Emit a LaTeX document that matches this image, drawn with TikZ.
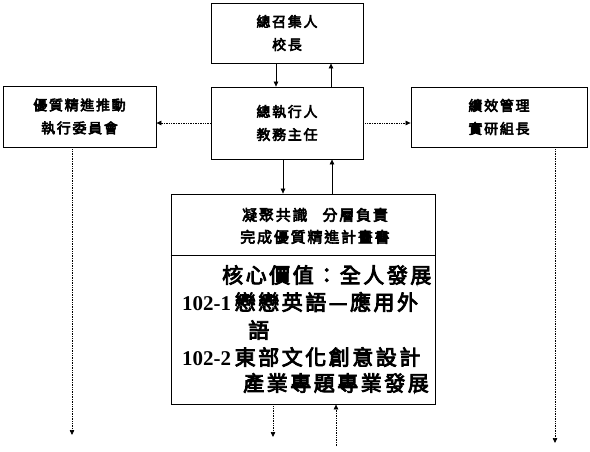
\documentclass[tikz,border=0pt]{standalone}
\usepackage{fontspec}
\setmainfont{Liberation Serif}
\newfontfamily\cjk[FakeBold=4, LetterSpace=12]{Noto Sans CJK TC}
\usepackage{tikz}
\usetikzlibrary{arrows.meta}

\begin{document}
\begin{tikzpicture}[
        x=1pt, y=-1pt,
        box/.style={rectangle, draw=black, line width=0.8pt, align=center, inner sep=0pt, font=\cjk\fontsize{14}{23}\selectfont},
        arrow/.style={-{Triangle[length=5pt,width=4.5pt]}, line width=0.7pt},
        dotarrow/.style={arrow, densely dotted},
        goal/.style={anchor=west, inner sep=0pt, font=\cjk\fontsize{21}{21}\selectfont}
    ]
        \useasboundingbox (0,0) rectangle (590,451);

        \node[box, minimum width=152pt, minimum height=60pt] (head) at (287,33) {總召集人\\校長};
        \node[box, minimum width=152pt, minimum height=72pt] (exec) at (287,123) {總執行人\\教務主任};
        \node[box, minimum width=153pt, minimum height=61pt] (board) at (79.5,116.5) {優質精進推動\\執行委員會};
        \node[box, minimum width=176pt, minimum height=60pt] (review) at (499,117) {績效管理\\實研組長};
        \node[box, minimum width=264pt, minimum height=210pt] (plan) at (303,299) {};

        % plan box contents
        \draw[line width=0.8pt] (plan.west |- 0,255) -- (plan.east |- 0,255);
        \node[font=\cjk\fontsize{15}{22}\selectfont, align=center] (consensus) at (315,226) {凝聚共識\quad 分層負責\\完成優質精進計畫書};
        \node[goal] (core) at (222,275) {核心價值：全人發展};
        \node[goal] (term1) at (182,302) {{\rmfamily\bfseries 102-1}\,戀戀英語—應用外};
        \node[goal] (term1b) at (248,330) {語};
        \node[goal] (term2) at (182,357) {{\rmfamily\bfseries 102-2}\,東部文化創意設計};
        \node[goal] (term2b) at (243,383) {產業專題專業發展};

        \coordinate (boardout) at (72,435);
        \coordinate (reviewout) at (555,443);
        \coordinate (planout) at (273,437);
        \coordinate (planin) at (336,446);

        \draw[arrow] ([xshift=-11pt]head.south) -- ([xshift=-11pt]exec.north);
        \draw[arrow] ([xshift=44pt]exec.north) -- ([xshift=44pt]head.south);
        \draw[dotarrow] (exec.west |- 0,123) -- (board.east |- 0,123);
        \draw[dotarrow] (exec.east |- 0,123) -- (review.west |- 0,123);
        \draw[arrow] ([xshift=-4pt]exec.south) -- (plan.north -| 283,0);
        \draw[arrow] (plan.north -| 332,0) -- ([xshift=45pt]exec.south);
        \draw[dotarrow] (board.south -| boardout) -- (boardout);
        \draw[dotarrow] (review.south -| reviewout) -- (reviewout);
        \draw[dotarrow] (plan.south -| planout) -- (planout);
        \draw[dotarrow] (planin) -- (plan.south -| planin);
    \end{tikzpicture}
\end{document}
